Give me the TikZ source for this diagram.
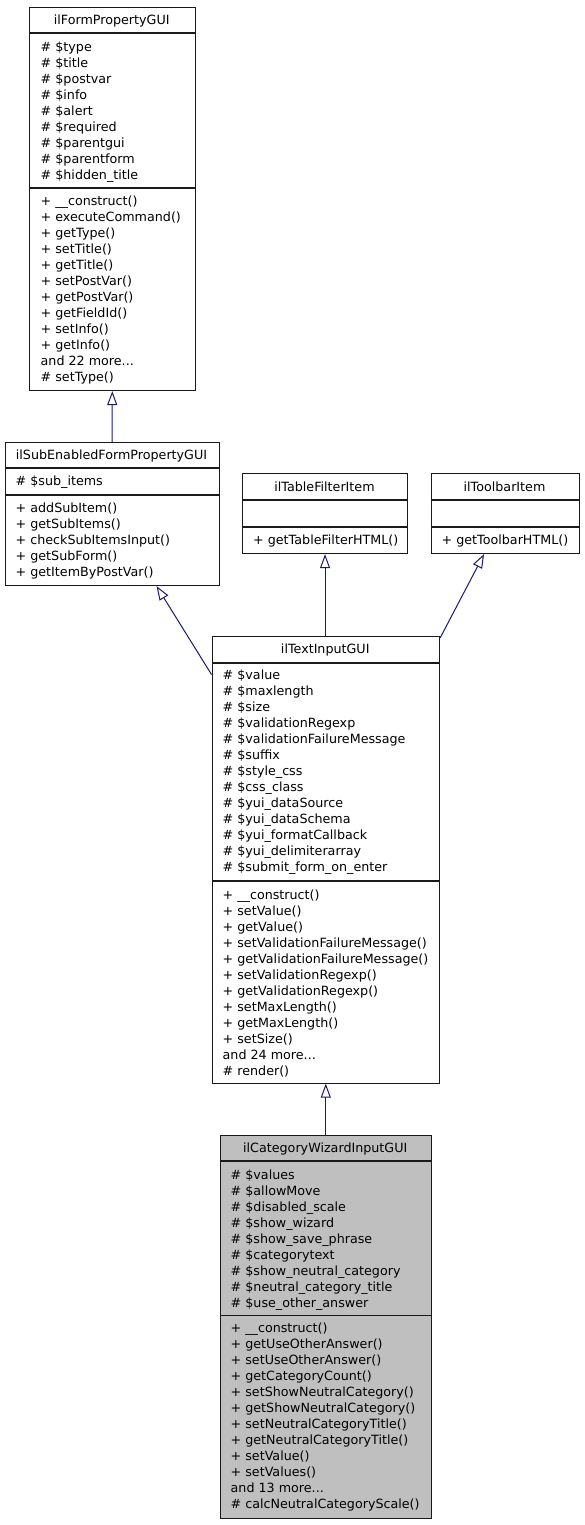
\documentclass[tikz,border=0pt]{standalone}
\usepackage{fontspec}
\setmainfont{DejaVu Sans}
\usetikzlibrary{arrows.meta}
\definecolor{edgeblue}{HTML}{191970}
\definecolor{classgray}{HTML}{BFBFBF}
\definecolor{boxline}{HTML}{1A1A1A}
\newcommand\mydots{...}
\newcommand\mylines[4]{%
  \foreach \t [count=\i] in {#4} {\node[txt] (#1-\i) at (#2, #3+4.5+16*\i-16) {\t};}}
\begin{document}
\begin{tikzpicture}[x=1pt,y=-1pt,
  classbox/.style={draw=boxline, line width=1.1pt, fill=white, inner sep=0pt, anchor=north west},
  sepline/.style={draw=boxline, line width=1.1pt},
  txt/.style={anchor=base west, inner sep=0pt, font=\fontsize{12.7}{15}\selectfont},
  ttl/.style={anchor=base, inner sep=0pt, font=\fontsize{12.7}{15}\selectfont},
  inherit/.style={draw=edgeblue, line width=1pt, -{Triangle[open, length=14pt, width=10pt]}}]
\useasboundingbox (0,0) rectangle (584,1525);

% ilFormPropertyGUI
\node[classbox, minimum width=165.5pt, minimum height=383pt] (form) at (29,7) {};
\draw[sepline] (form.west |- 0,33) -- (form.east |- 0,33);
\draw[sepline] (form.west |- 0,188) -- (form.east |- 0,188);
\node[ttl] (form-t) at (111.75,24.5) {ilFormPropertyGUI};
\mylines{form-a}{40.5}{47}{\# \$type, \# \$title, \# \$postvar, \# \$info, \# \$alert, \# \$required, \# \$parentgui, \# \$parentform, \# \$hidden\_title}
\mylines{form-m}{40.5}{201}{+ \_\_construct(), + executeCommand(), + getType(), + setTitle(), + getTitle(), + setPostVar(), + getPostVar(), + getFieldId(), + setInfo(), + getInfo(), and 22 more\mydots, \# setType()}

% ilSubEnabledFormPropertyGUI
\node[classbox, minimum width=214pt, minimum height=143pt] (sub) at (4.5,442) {};
\draw[sepline] (sub.west |- 0,468) -- (sub.east |- 0,468);
\draw[sepline] (sub.west |- 0,495) -- (sub.east |- 0,495);
\node[ttl] (sub-t) at (111.5,459.5) {ilSubEnabledFormPropertyGUI};
\mylines{sub-a}{15.5}{481}{\# \$sub\_items}
\mylines{sub-m}{15.5}{508}{+ addSubItem(), + getSubItems(), + checkSubItemsInput(), + getSubForm(), + getItemByPostVar()}

% ilTableFilterItem
\node[classbox, minimum width=165pt, minimum height=80pt] (table) at (242,473) {};
\draw[sepline] (table.west |- 0,500) -- (table.east |- 0,500);
\draw[sepline] (table.west |- 0,527) -- (table.east |- 0,527);
\node[ttl] (table-t) at (324.5,491) {ilTableFilterItem};
\mylines{table-m}{253}{540}{+ getTableFilterHTML()}

% ilToolbarItem
\node[classbox, minimum width=148pt, minimum height=80pt] (toolbar) at (430.5,473) {};
\draw[sepline] (toolbar.west |- 0,500) -- (toolbar.east |- 0,500);
\draw[sepline] (toolbar.west |- 0,527) -- (toolbar.east |- 0,527);
\node[ttl] (toolbar-t) at (504.5,491) {ilToolbarItem};
\mylines{toolbar-m}{441.5}{540}{+ getToolbarHTML()}

% ilTextInputGUI
\node[classbox, minimum width=227.5pt, minimum height=446.5pt] (text) at (211.5,636) {};
\draw[sepline] (text.west |- 0,663) -- (text.east |- 0,663);
\draw[sepline] (text.west |- 0,881) -- (text.east |- 0,881);
\node[ttl] (text-t) at (325.25,653.5) {ilTextInputGUI};
\mylines{text-a}{222.5}{675}{\# \$value, \# \$maxlength, \# \$size, \# \$validationRegexp, \# \$validationFailureMessage, \# \$suffix, \# \$style\_css, \# \$css\_class, \# \$yui\_dataSource, \# \$yui\_dataSchema, \# \$yui\_formatCallback, \# \$yui\_delimiterarray, \# \$submit\_form\_on\_enter}
\mylines{text-m}{222.5}{895}{+ \_\_construct(), + setValue(), + getValue(), + setValidationFailureMessage(), + getValidationFailureMessage(), + setValidationRegexp(), + getValidationRegexp(), + setMaxLength(), + getMaxLength(), + setSize(), and 24 more\mydots, \# render()}

% ilCategoryWizardInputGUI
\node[classbox, fill=classgray, minimum width=211.5pt, minimum height=383.5pt] (cat) at (219.5,1134.5) {};
\draw[sepline] (cat.west |- 0,1161) -- (cat.east |- 0,1161);
\draw[sepline] (cat.west |- 0,1315.5) -- (cat.east |- 0,1315.5);
\node[ttl] (cat-t) at (325.25,1152.5) {ilCategoryWizardInputGUI};
\mylines{cat-a}{230.5}{1175}{\# \$values, \# \$allowMove, \# \$disabled\_scale, \# \$show\_wizard, \# \$show\_save\_phrase, \# \$categorytext, \# \$show\_neutral\_category, \# \$neutral\_category\_title, \# \$use\_other\_answer}
\mylines{cat-m}{230.5}{1328}{+ \_\_construct(), + getUseOtherAnswer(), + setUseOtherAnswer(), + getCategoryCount(), + setShowNeutralCategory(), + getShowNeutralCategory(), + setNeutralCategoryTitle(), + getNeutralCategoryTitle(), + setValue(), + setValues(), and 13 more\mydots, \# calcNeutralCategoryScale()}

% inheritance connectors
\draw[inherit] (sub.north) -- (form.south);
\draw[inherit] ([yshift=-38.5pt]text.north west) -- ([xshift=44.5pt]sub.south);
\draw[inherit] (text.north -| table.south) -- (table.south);
\draw[inherit] ([yshift=-2pt]text.north east) -- ([xshift=-21pt]toolbar.south);
\draw[inherit] (cat.north) -- (text.south);
\end{tikzpicture}
\end{document}
